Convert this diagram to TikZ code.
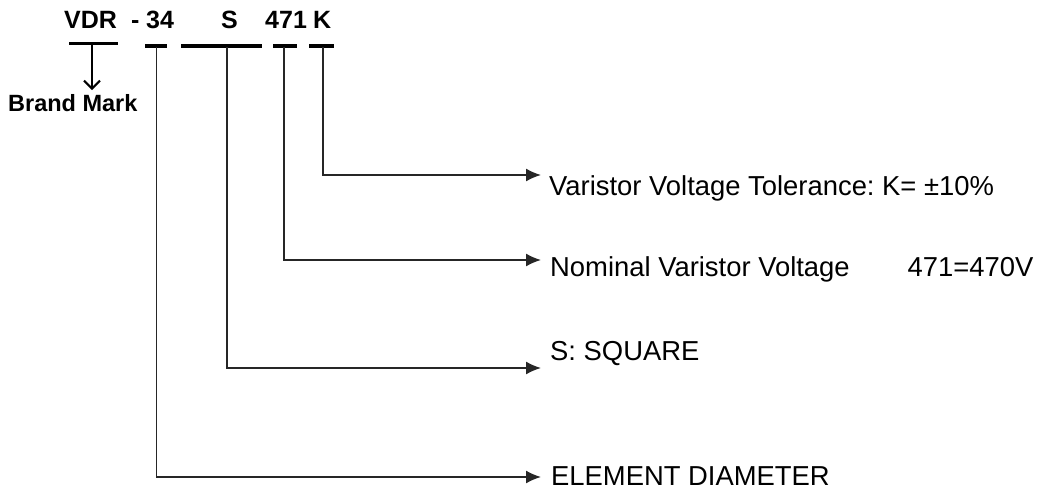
\documentclass[tikz,border=0pt]{standalone}
\usepackage{fontspec}
\setmainfont{Liberation Sans}
\usetikzlibrary{arrows.meta}
\frenchspacing
\begin{document}
\begin{tikzpicture}[x=1pt,y=-1pt,
  hdr/.style={font=\fontsize{25}{27}\selectfont\bfseries, inner sep=0pt, anchor=base west},
  lbl/.style={font=\fontsize{27.4}{30}\selectfont, inner sep=0pt, anchor=base west},
  bar/.style={fill=black, draw=none, inner sep=0pt, minimum height=4pt},
  conn/.style={draw=black!85, line width=1.6pt, -{Latex[length=15pt,width=13pt]}},
  stem/.style={draw=black!85, line width=1.6pt}
]
\useasboundingbox (0,0) rectangle (1042,490);
% header code
\node[hdr] (vdr)  at (64,28)  {VDR};
\node[hdr] (dash) at (131,28) {-};
\node[hdr] (n34)  at (146,28) {34};
\node[hdr] (s)    at (221,28) {S};
\node[hdr] (n471) at (265,28) {471};
\node[hdr] (k)    at (313,28) {K};
% bars
\node[bar, minimum width=49pt, minimum height=3pt] (barB) at (93.5,43.5) {};
\node[bar, minimum width=22pt] (bar34) at (156,45.5) {};
\node[bar, minimum width=81pt] (barS)  at (221.5,45.5) {};
\node[bar, minimum width=24pt] (bar471) at (285,45.5) {};
\node[bar, minimum width=25pt] (barK) at (321.5,45.5) {};
% stem starts and arrow ends
\coordinate (s34) at (156.5,47);
\coordinate (sS)  at (227,47);
\coordinate (s471) at (284,47);
\coordinate (sK)  at (323,47);
\coordinate (tK)   at (541,175);
\coordinate (t471) at (541,260);
\coordinate (tS)   at (541,368);
\coordinate (tE)   at (541,477);
% brand mark
\node[font=\fontsize{23.5}{26}\selectfont\bfseries, inner sep=0pt, anchor=base west] (brand) at (8,111) {Brand Mark};
\coordinate (tB) at (92,90);
\draw[draw=black, line width=2pt, -{Straight Barb[length=8pt,width=16pt,line width=2pt]}] (barB.south -| tB) -- (tB);
% connectors
\draw[conn] (sK) |- (tK);
\draw[conn] (s471) |- (t471);
\draw[conn] (sS) |- (tS);
\draw[conn] (s34) |- (tE);
% labels
\node[lbl] (lK)   at (549,195) {Varistor Voltage Tolerance: K= \textpm10\%};
\node[lbl] (l471) at (550,276) {Nominal Varistor Voltage\hspace{58pt}471=470V};
\node[lbl] (lS)   at (550,360) {S: SQUARE};
\node[lbl] (lE)   at (551,485) {ELEMENT DIAMETER};
\end{tikzpicture}
\end{document}
